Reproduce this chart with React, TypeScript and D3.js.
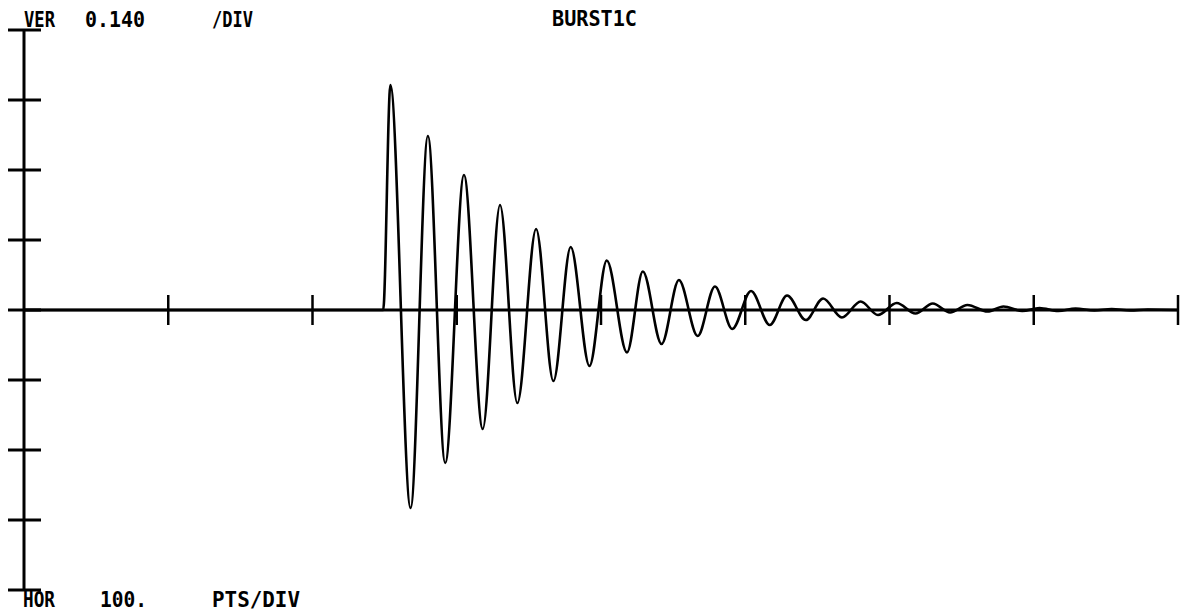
import React from "react";
import * as d3 from "d3";

// Horizontal: sample points (PTS), vertical: amplitude
const VER_PER_DIV = 0.14;
const HOR_PER_DIV = 100;
const N_HDIV = 8;
const N_VDIV_HALF = 4;

// Extrema of the damped burst (sample index, amplitude)
const sampleIdx = [
  0, 249, 254, 268, 280, 292, 305, 318, 330, 342, 355, 367, 379, 392, 404, 418,
  429, 442, 454, 467, 479, 491, 504, 517, 529, 542, 554, 567, 580, 592, 605,
  618, 630, 642, 654, 668, 679, 692, 704, 717, 729, 742, 754, 767, 779, 800,
];
const amplitude = [
  0, 0, 0.45, -0.396, 0.348, -0.306, 0.27, -0.238, 0.21, -0.186, 0.162, -0.142,
  0.126, -0.112, 0.099, -0.085, 0.077, -0.068, 0.06, -0.052, 0.047, -0.038,
  0.038, -0.03, 0.029, -0.02, 0.023, -0.015, 0.017, -0.01, 0.014, -0.007, 0.013,
  -0.005, 0.01, -0.003, 0.007, -0.002, 0.004, -0.002, 0.003, -0.001, 0.002,
  -0.001, 0.001, 0,
];

const verLabels = ["VER", "0.140", "/DIV"];
const horLabels = ["HOR", "100.", "PTS/DIV"];
const title = "BURST1C";

export default function App() {
  const W = 1184;
  const H = 616;
  const x = d3
    .scaleLinear()
    .domain([0, HOR_PER_DIV * N_HDIV])
    .range([24, 1178]);
  const y = d3
    .scaleLinear()
    .domain([-VER_PER_DIV * N_VDIV_HALF, VER_PER_DIV * N_VDIV_HALF])
    .range([590, 30]);

  const pts: [number, number][] = sampleIdx.map((s, i) => [s, amplitude[i]]);
  const line = d3
    .line<[number, number]>()
    .x((d) => x(d[0]))
    .y((d) => y(d[1]))
    .curve(d3.curveMonotoneX);

  const hTicks = d3.range(0, N_HDIV + 1).map((i) => i * HOR_PER_DIV);
  const vTicks = d3
    .range(-N_VDIV_HALF, N_VDIV_HALF + 1)
    .map((i) => i * VER_PER_DIV);

  const font = {
    fontFamily: "'DejaVu Sans Mono', monospace",
    fontWeight: 700,
    fontSize: 21,
  } as const;

  const verX = [24, 85, 212];
  const verW = [31, 60, 41];
  const horX = [23, 100, 212];
  const horW = [32, 47, 88];

  return (
    <svg
      width={W}
      height={H}
      style={{ position: "absolute", left: 0, top: 0, display: "block", background: "#fff" }}
    >
      <rect x={0} y={0} width={W} height={H} fill="#fff" />
      {/* vertical axis */}
      <line x1={x(0)} x2={x(0)} y1={y.range()[0]} y2={y.range()[1]} stroke="#000" strokeWidth={3} />
      {vTicks.map((v) => (
        <line key={"v" + v} x1={x(0) - 16} x2={x(0) + 17} y1={y(v)} y2={y(v)} stroke="#000" strokeWidth={3} />
      ))}
      {/* horizontal axis */}
      <line x1={x.range()[0]} x2={x.range()[1]} y1={y(0)} y2={y(0)} stroke="#000" strokeWidth={3} />
      {hTicks.slice(1).map((h) => (
        <line key={"h" + h} x1={x(h)} x2={x(h)} y1={y(0) - 15} y2={y(0) + 15} stroke="#000" strokeWidth={2.5} />
      ))}
      {/* waveform */}
      <path d={line(pts) || ""} fill="none" stroke="#000" strokeWidth={2.6} strokeLinejoin="round" />
      {/* labels */}
      {verLabels.map((t, i) => (
        <text key={t} x={verX[i]} y={27} textLength={verW[i]} lengthAdjust="spacingAndGlyphs" {...font}>
          {t}
        </text>
      ))}
      <text x={552} y={26} textLength={85} lengthAdjust="spacingAndGlyphs" {...font}>
        {title}
      </text>
      {horLabels.map((t, i) => (
        <text key={t} x={horX[i]} y={607} textLength={horW[i]} lengthAdjust="spacingAndGlyphs" {...font}>
          {t}
        </text>
      ))}
    </svg>
  );
}
